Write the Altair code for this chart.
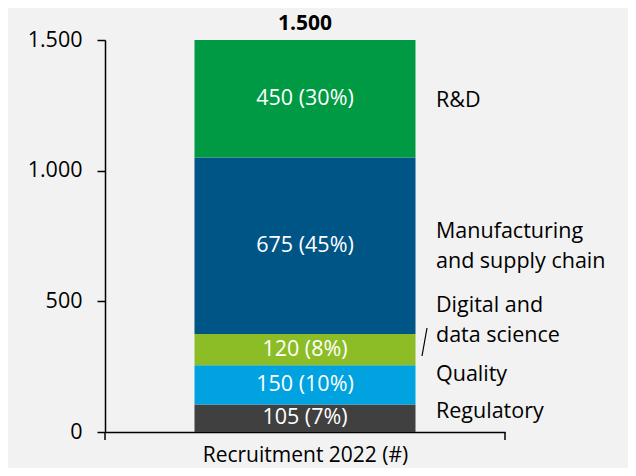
import altair as alt
import pandas as pd

group = "Recruitment 2022 (#)"
categories = ["Regulatory", "Quality", "Digital and data science",
              "Manufacturing and supply chain", "R&D"]
label_text = ["Regulatory", "Quality", "Digital and\ndata science",
              "Manufacturing\nand supply chain", "R&D"]
values = [105, 150, 120, 675, 450]
percents = [7, 10, 8, 45, 30]
colors = ["#404040", "#00A3E0", "#8CBD26", "#005587", "#009A44"]
label_y = [54, 195, 458, 742, 1244]
y_ticks = [0, 500, 1000, 1500]

FONT = "Open Sans"
FS = 21.5

df = pd.DataFrame({
    "grp": [group] * len(categories),
    "cat": categories,
    "idx": list(range(len(categories))),
    "value": values,
    "pct": percents,
    "lab": label_text,
    "laby": label_y,
})
df["inner"] = [f"{v} ({p}%)" for v, p in zip(values, percents)]
tot = pd.DataFrame({"grp": [group], "total": [sum(values)]})

fmt = "replace(format(datum.value, ','), ',', '.')"

xenc = alt.X("grp:N", title=group,
             scale=alt.Scale(paddingOuter=0.5),
             axis=alt.Axis(labels=False, ticks=False, domainColor="black",
                           domainWidth=1.5, titleFontSize=21, titleFont=FONT,
                           titleFontWeight="normal", titleColor="black",
                           titlePadding=12))

base = alt.Chart(df)

bars = base.mark_bar(size=221).encode(
    x=xenc,
    y=alt.Y("value:Q", stack="zero", title=None,
            scale=alt.Scale(domain=[0, 1500], nice=False),
            axis=alt.Axis(values=y_ticks, grid=False, tickSize=8,
                          tickColor="black", tickWidth=1.5,
                          domainColor="black", domainWidth=1.5,
                          labelFontSize=FS, labelFont=FONT,
                          labelColor="black", labelPadding=15,
                          labelExpr=fmt)),
    color=alt.Color("cat:N", scale=alt.Scale(domain=categories, range=colors),
                    legend=None),
    order=alt.Order("idx:Q", sort="ascending"),
)

inner = base.transform_stack(
    stack="value", groupby=["grp"], as_=["y0", "y1"],
    sort=[alt.SortField("idx", order="ascending")]
).transform_calculate(
    mid="(datum.y0 + datum.y1) / 2"
).mark_text(color="white", fontSize=FS, font=FONT, baseline="middle").encode(
    x=alt.X("grp:N"),
    y=alt.Y("mid:Q"),
    text="inner:N",
)

side = base.mark_text(align="left", baseline="alphabetic", fontSize=FS, font=FONT,
                      color="black", lineBreak="\n", lineHeight=29.5).encode(
    x=alt.value(331),
    y=alt.Y("laby:Q"),
    text="lab:N",
)

total = alt.Chart(tot).transform_calculate(
    t="replace(format(datum.total, ','), ',', '.')"
).mark_text(fontSize=21, font=FONT, fontWeight="bold",
            color="black", baseline="alphabetic", dy=-10).encode(
    x=alt.X("grp:N"),
    y=alt.Y("total:Q"),
    text="t:N",
)

slash = alt.Chart(tot).mark_rule(color="black", strokeWidth=1.2).encode(
    x=alt.value(322), x2=alt.value(317), y=alt.value(288), y2=alt.value(316))

tick_l = alt.Chart(tot).mark_rule(color="black", strokeWidth=1.5).encode(
    x=alt.value(0), y=alt.value(392), y2=alt.value(400))
tick_r = alt.Chart(tot).mark_rule(color="black", strokeWidth=1.5).encode(
    x=alt.value(400), y=alt.value(392), y2=alt.value(400))

chart = alt.layer(bars, inner, side, total, slash, tick_l, tick_r).properties(
    width=400, height=392,
    autosize=alt.AutoSizeParams(type="none"),
    padding={"left": 97, "top": 32, "right": 123, "bottom": 36},
    background="#F2F2F2",
).configure_view(stroke=None)

chart.save("out.html", embed_options={"renderer": "svg", "actions": False})
